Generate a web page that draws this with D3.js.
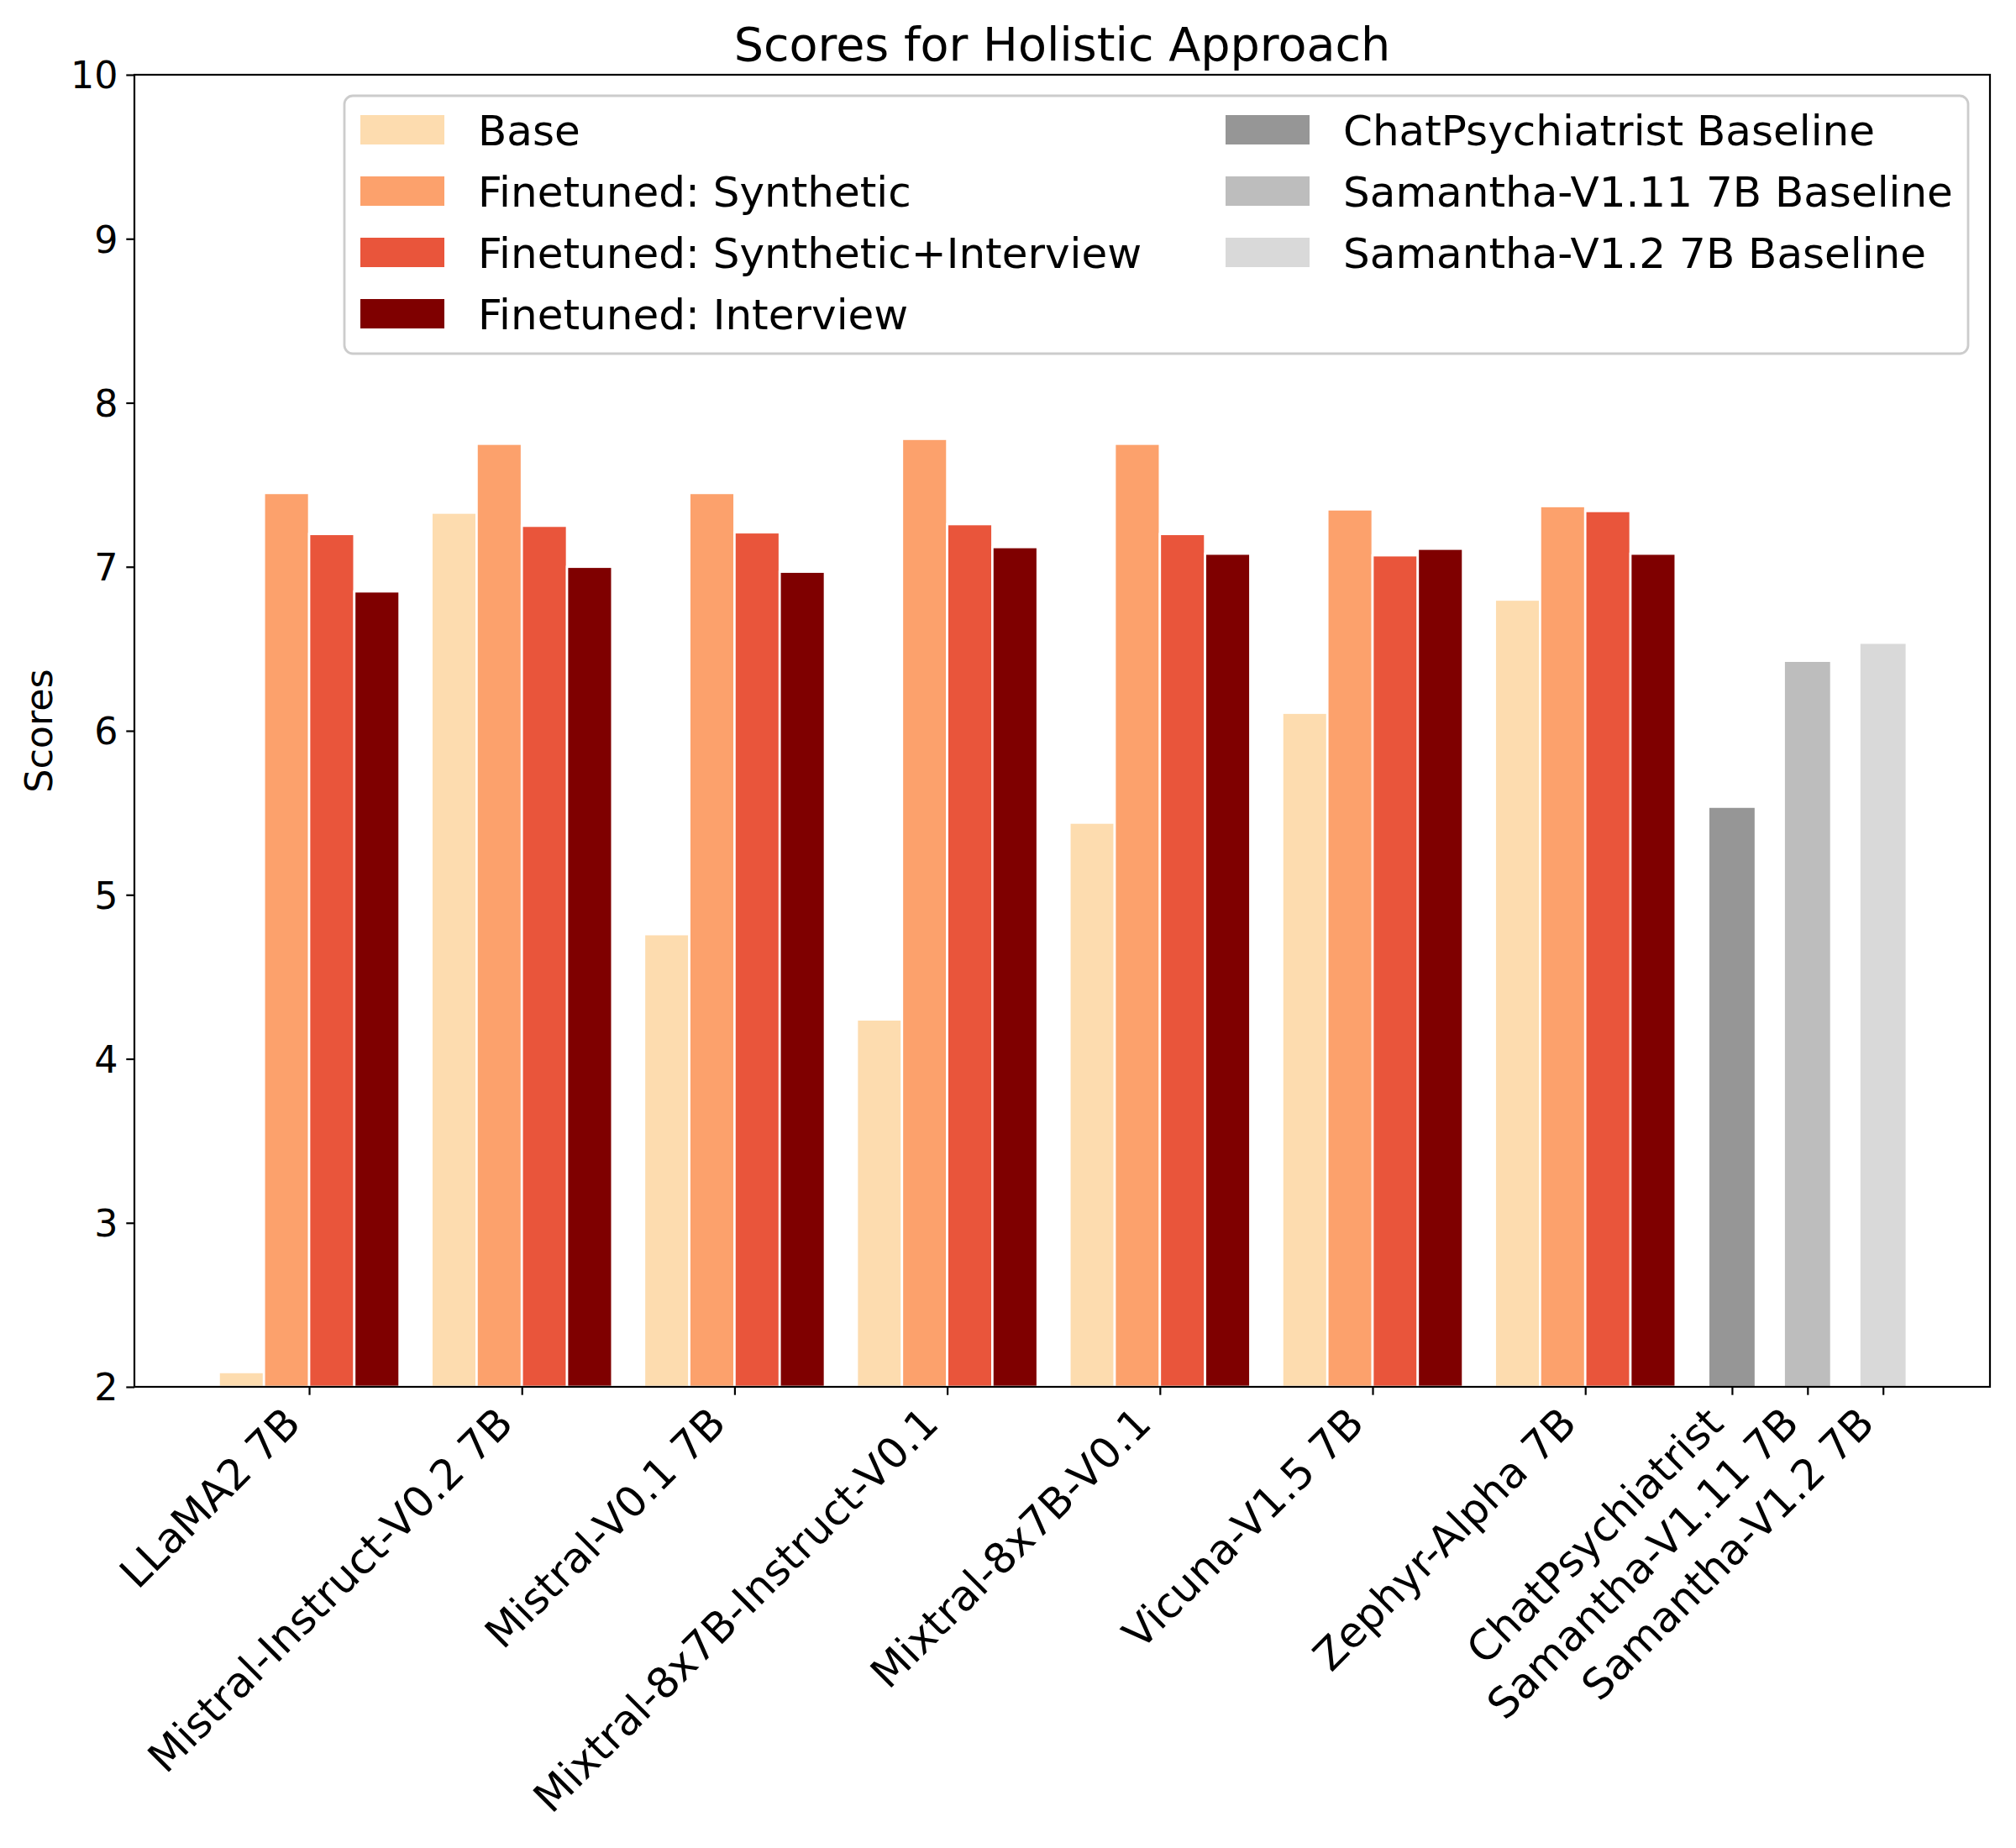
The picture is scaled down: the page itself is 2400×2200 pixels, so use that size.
<!DOCTYPE html>
<html>
<head>
<meta charset="utf-8">
<script src="https://cdn.jsdelivr.net/npm/d3@7"></script>
<style>
  html, body { margin: 0; padding: 0; background: #fff; }
  svg { display: block; }
  text { font-family: "DejaVu Sans", sans-serif; fill: #000; }
</style>
</head>
<body>
<svg id="chart" width="2400" height="2200"></svg>
<script>
// ---------- data ----------
const models = ["LLaMA2 7B", "Mistral-Instruct-V0.2 7B", "Mistral-V0.1 7B",
  "Mixtral-8x7B-Instruct-V0.1", "Mixtral-8x7B-V0.1", "Vicuna-V1.5 7B", "Zephyr-Alpha 7B"];
const seriesNames = ["Base", "Finetuned: Synthetic", "Finetuned: Synthetic+Interview", "Finetuned: Interview"];
const baseScores        = [2.09, 7.33, 4.76, 4.24, 5.44, 6.11, 6.80];
const syntheticScores   = [7.45, 7.75, 7.45, 7.78, 7.75, 7.35, 7.37];
const synthInterScores  = [7.20, 7.25, 7.21, 7.26, 7.20, 7.07, 7.34];
const interviewScores   = [6.85, 7.00, 6.97, 7.12, 7.08, 7.11, 7.08];
const baselineNames   = ["ChatPsychiatrist", "Samantha-V1.11 7B", "Samantha-V1.2 7B"];
const baselineLegend  = ["ChatPsychiatrist Baseline", "Samantha-V1.11 7B Baseline", "Samantha-V1.2 7B Baseline"];
const baselineScores  = [5.53, 6.42, 6.53];
const yTicks = [2, 3, 4, 5, 6, 7, 8, 9, 10];
const titleText = "Scores for Holistic Approach";
const yLabelText = "Scores";

// ---------- styles ----------
const seriesColors = ["#fddcaf", "#fca16c", "#e9553b", "#7f0000"];
const baselineColors = ["#969696", "#bdbdbd", "#d9d9d9"];
const seriesValues = [baseScores, syntheticScores, synthInterScores, interviewScores];

const W = 2400, H = 2200;
const plot = {left: 160, right: 2369, top: 89, bottom: 1651};
const barW = 0.2125;
const baselinePos = baselineNames.map((d, k) => models.length - 0.31 + k * 0.355);

const xMin = -2 * barW, xMax = baselinePos[baselinePos.length - 1] + barW / 2;
const margin = (xMax - xMin) * 0.05;
const x = d3.scaleLinear().domain([xMin - margin, xMax + margin]).range([plot.left, plot.right]);
const y = d3.scaleLinear().domain([2, 10]).range([plot.bottom, plot.top]);

const svg = d3.select("#chart");
svg.append("rect").attr("width", W).attr("height", H).attr("fill", "#fff");

const tickFont = 44.4, xTickFont = 50, legendFont = 50, titleFont = 55.6;
const tickLen = 9.7, tickPad = 9.7, lw = 2.2;

// bars
const barsG = svg.append("g");
seriesValues.forEach((vals, j) => {
  barsG.selectAll(null).data(vals).enter().append("rect")
    .attr("x", (d, i) => x(i + (j - 2) * barW))
    .attr("width", x(barW) - x(0))
    .attr("y", d => y(d))
    .attr("height", d => y(2) - y(d))
    .attr("fill", seriesColors[j])
    .attr("stroke", "#fff")
    .attr("stroke-width", 2.7);
});
barsG.selectAll(null).data(baselineScores).enter().append("rect")
  .attr("x", (d, k) => x(baselinePos[k] - barW / 2))
  .attr("width", x(barW) - x(0))
  .attr("y", d => y(d))
  .attr("height", d => y(2) - y(d))
  .attr("fill", (d, k) => baselineColors[k]);

// y axis
const yAxis = svg.append("g").attr("transform", `translate(${plot.left},0)`)
  .call(d3.axisLeft(y).tickValues(yTicks).tickFormat(d3.format("d"))
    .tickSize(tickLen).tickSizeOuter(0).tickPadding(tickPad));
yAxis.select(".domain").remove();
yAxis.selectAll(".tick line").attr("stroke", "#000").attr("stroke-width", lw);
yAxis.selectAll(".tick text").attr("font-size", tickFont).attr("dy", "0.36em")
  .style("font-family", "DejaVu Sans");

// x axis
const xPositions = models.map((d, i) => i).concat(baselinePos);
const xLabels = models.concat(baselineNames);
const xAxis = svg.append("g").attr("transform", `translate(0,${plot.bottom})`)
  .call(d3.axisBottom(x).tickValues(xPositions).tickFormat((d, i) => xLabels[i])
    .tickSize(tickLen).tickSizeOuter(0));
xAxis.select(".domain").remove();
xAxis.selectAll(".tick line").attr("stroke", "#000").attr("stroke-width", lw);
const asc = 0.76 * xTickFont, desc = 0.236 * xTickFont;
xAxis.selectAll(".tick text")
  .attr("font-size", xTickFont)
  .style("font-family", "DejaVu Sans")
  .attr("x", 0).attr("y", 0).attr("dy", null)
  .attr("text-anchor", "end")
  .attr("transform", `translate(${-desc / Math.SQRT2},${tickLen + tickPad + asc / Math.SQRT2}) rotate(-45)`);

// frame
svg.append("rect")
  .attr("x", plot.left).attr("y", plot.top)
  .attr("width", plot.right - plot.left).attr("height", plot.bottom - plot.top)
  .attr("fill", "none").attr("stroke", "#000").attr("stroke-width", lw);

// title
svg.append("text").attr("x", (plot.left + plot.right) / 2).attr("y", plot.top - 16.7)
  .attr("text-anchor", "middle").attr("font-size", titleFont).text(titleText);

// y label
svg.append("text")
  .attr("transform", `translate(62,${(plot.top + plot.bottom) / 2}) rotate(-90)`)
  .attr("text-anchor", "middle").attr("font-size", tickFont).text(yLabelText);

// legend
const leg = svg.append("g");
leg.append("rect").attr("x", 410).attr("y", 114).attr("width", 2343 - 410).attr("height", 421 - 114)
  .attr("rx", 10).attr("ry", 10)
  .attr("fill", "#fff").attr("fill-opacity", 0.8)
  .attr("stroke", "#cccccc").attr("stroke-width", 2.8);
const rowY = k => 154.5 + k * 73;
const legendItems = [
  ...seriesNames.map((n, j) => ({name: n, color: seriesColors[j], col: 0, row: j})),
  ...baselineLegend.map((n, k) => ({name: n, color: baselineColors[k], col: 1, row: k}))
];
const colX = [429, 1459];
const items = leg.selectAll(null).data(legendItems).enter().append("g");
items.append("rect")
  .attr("x", d => colX[d.col]).attr("y", d => rowY(d.row) - 17.5)
  .attr("width", 100).attr("height", 35).attr("fill", d => d.color);
items.append("text")
  .attr("x", d => colX[d.col] + 100 + 0.8 * legendFont)
  .attr("y", d => rowY(d.row) + 0.36 * legendFont)
  .attr("font-size", legendFont).text(d => d.name);
</script>
</body>
</html>
